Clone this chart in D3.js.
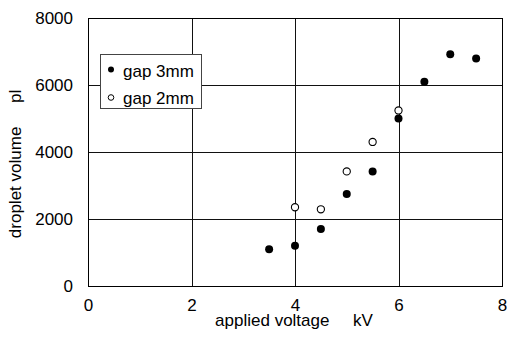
<!DOCTYPE html>
<html><head><meta charset="utf-8">
<script src="https://cdn.jsdelivr.net/npm/d3@7"></script>
<style>body{margin:0;background:#fff}svg{display:block}text{font-family:"Liberation Sans",Arial,sans-serif;fill:#000}</style>
</head><body>
<svg id="c" width="507" height="340"></svg>
<script>
const gap3Voltage = [3.5, 4.0, 4.5, 5.0, 5.5, 6.0, 6.5, 7.0, 7.5];
const gap3Volume  = [1100, 1200, 1700, 2750, 3420, 5000, 6100, 6920, 6790];
const gap2Voltage = [4.0, 4.5, 5.0, 5.5, 6.0];
const gap2Volume  = [2350, 2290, 3420, 4300, 5240];
const xTicks = [0, 2, 4, 6, 8];
const yTicks = [0, 2000, 4000, 6000, 8000];
const seriesNames = ["gap 3mm", "gap 2mm"];

const svg = d3.select("#c");
const L = 88, R = 502, T = 18, B = 286;
const x = d3.scaleLinear().domain([0, 8]).range([L, R]);
const y = d3.scaleLinear().domain([0, 8000]).range([B, T]);

// grid
const g = svg.append("g");
g.selectAll("line.vx").data(xTicks.slice(1, -1)).join("line")
  .attr("x1", d => Math.round(x(d)) + 0.5).attr("x2", d => Math.round(x(d)) + 0.5)
  .attr("y1", T).attr("y2", B).attr("stroke", "#111").attr("stroke-width", 1);
g.selectAll("line.hy").data(yTicks.slice(1, -1)).join("line")
  .attr("y1", d => Math.round(y(d)) + 0.5).attr("y2", d => Math.round(y(d)) + 0.5)
  .attr("x1", L).attr("x2", R).attr("stroke", "#111").attr("stroke-width", 1);
svg.append("rect").attr("x", L + 0.5).attr("y", T + 0.5).attr("width", R - L).attr("height", B - T)
  .attr("fill", "none").attr("stroke", "#000").attr("stroke-width", 1);

// axes via d3 axis (labels only)
const xAxis = svg.append("g").attr("transform", `translate(0,${B})`)
  .call(d3.axisBottom(x).tickValues(xTicks).tickSize(0).tickPadding(13).tickFormat(d3.format("d")));
const yAxis = svg.append("g").attr("transform", `translate(${L},0)`)
  .call(d3.axisLeft(y).tickValues(yTicks).tickSize(0).tickPadding(15).tickFormat(d3.format("d")));
[xAxis, yAxis].forEach(a => {
  a.select(".domain").remove();
  a.selectAll("text").attr("font-size", 17).attr("font-family", "Liberation Sans, Arial, sans-serif").attr("fill", "#000");
});

// axis titles
svg.append("text").attr("x", 294).attr("y", 326).attr("text-anchor", "middle")
  .attr("font-size", 17).style("white-space", "pre").text("applied voltage     kV");
svg.append("text").attr("transform", "translate(21,164) rotate(-90)").attr("text-anchor", "middle")
  .attr("font-size", 17).style("white-space", "pre").text("droplet volume     pl");

// data
const d3pts = gap3Voltage.map((v, i) => ({ v, q: gap3Volume[i] }));
const d2pts = gap2Voltage.map((v, i) => ({ v, q: gap2Volume[i] }));
svg.append("g").selectAll("circle").data(d3pts).join("circle")
  .attr("cx", d => x(d.v)).attr("cy", d => y(d.q)).attr("r", 4).attr("fill", "#000");
svg.append("g").selectAll("circle").data(d2pts).join("circle")
  .attr("cx", d => x(d.v)).attr("cy", d => y(d.q)).attr("r", 3.6)
  .attr("fill", "#fff").attr("stroke", "#000").attr("stroke-width", 1.1);

// legend
const lg = svg.append("g");
lg.append("rect").attr("x", 100.5).attr("y", 54.5).attr("width", 101).attr("height", 54)
  .attr("fill", "#fff").attr("stroke", "#444").attr("stroke-width", 1);
lg.append("circle").attr("cx", 111).attr("cy", 69.5).attr("r", 3).attr("fill", "#000");
lg.append("circle").attr("cx", 111).attr("cy", 97.5).attr("r", 2.8).attr("fill", "#fff").attr("stroke", "#000").attr("stroke-width", 1);
lg.append("text").attr("x", 123).attr("y", 77).attr("font-size", 17).text(seriesNames[0]);
lg.append("text").attr("x", 123).attr("y", 104).attr("font-size", 17).text(seriesNames[1]);
</script>
</body></html>
